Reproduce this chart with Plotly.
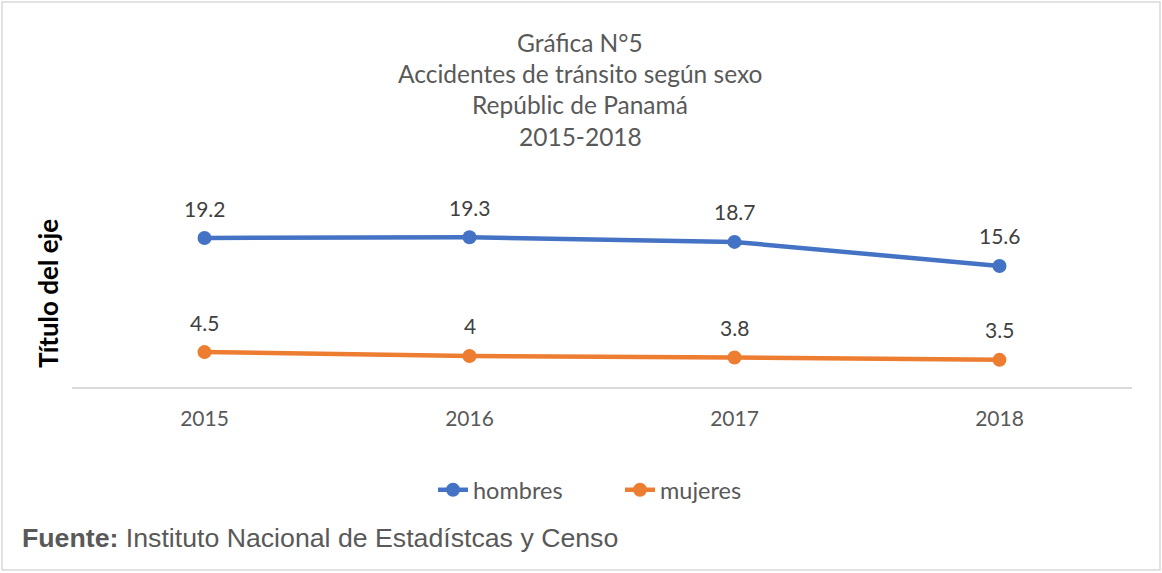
import plotly.graph_objects as go

years = ["2015", "2016", "2017", "2018"]
hombres = [19.2, 19.3, 18.7, 15.6]
mujeres = [4.5, 4.0, 3.8, 3.5]
hombres_labels = ["19.2", "19.3", "18.7", "15.6"]
mujeres_labels = ["4.5", "4", "3.8", "3.5"]
title_lines = ["Gráfica N°5", "Accidentes de tránsito según sexo", "Repúblic de Panamá", "2015-2018"]

BLUE = "#4472C4"
ORANGE = "#ED7D31"
FONT = "Lato, Calibri, Carlito, sans-serif"

W, H = 1162, 573
L, R, T, B = 72, 30, 193, 186
PH = H - T - B
PW = W - L - R

def py(px):
    return (H - B - px) / PH

def pxx(px):
    return (px - L) / PW

fig = go.Figure()
fig.add_trace(go.Scatter(x=years, y=hombres, name="hombres", mode="lines+markers",
                         line=dict(color=BLUE, width=4.5), marker=dict(size=14, color=BLUE)))
fig.add_trace(go.Scatter(x=years, y=mujeres, name="mujeres", mode="lines+markers",
                         line=dict(color=ORANGE, width=4.5), marker=dict(size=14, color=ORANGE)))

ann = []
for ys, labs in [(hombres, hombres_labels), (mujeres, mujeres_labels)]:
    for i, (y, t) in enumerate(zip(ys, labs)):
        ann.append(dict(x=i, y=y, xref="x", yref="y", text=t, showarrow=False, yshift=30,
                        xanchor="center", yanchor="middle",
                        font=dict(family=FONT, size=21, color="#404040")))

title_y = [42, 73, 104, 136]
for t, yy in zip(title_lines, title_y):
    ann.append(dict(x=pxx(580), y=py(yy), xref="paper", yref="paper", text=t, showarrow=False,
                    xanchor="center", yanchor="middle",
                    font=dict(family=FONT, size=24.5, color="#595959")))

ann.append(dict(x=pxx(48), y=py(294), xref="paper", yref="paper", text="<b>Título del eje</b>",
                textangle=-90, showarrow=False, xanchor="center", yanchor="middle",
                font=dict(family=FONT, size=26, color="#000000")))

ann.append(dict(x=pxx(20), y=py(538), xref="paper", yref="paper",
                text="<b>Fuente:</b> Instituto Nacional de Estadístcas y Censo",
                showarrow=False, xanchor="left", yanchor="middle",
                font=dict(family="Liberation Sans Narrow, Arial Narrow, Liberation Sans, Arial", size=26.7, color="#595959")))

fig.update_layout(
    width=W, height=H,
    margin=dict(l=L, r=R, t=T, b=B),
    paper_bgcolor="white", plot_bgcolor="white",
    showlegend=True,
    legend=dict(orientation="h", x=pxx(433), y=py(490), xanchor="left", yanchor="middle",
                font=dict(family=FONT, size=23.5, color="#595959"),
                entrywidth=142, entrywidthmode="pixels",
                bgcolor="rgba(0,0,0,0)"),
    annotations=ann,
    shapes=[dict(type="rect", xref="paper", yref="paper",
                 x0=pxx(2), x1=pxx(1160), y0=py(570), y1=py(2),
                 line=dict(color="#D9D9D9", width=1.5), fillcolor="rgba(0,0,0,0)", layer="below")],
    xaxis=dict(type="category", range=[-0.5, 3.5], showgrid=False, zeroline=False,
               showline=True, linecolor="#D9D9D9", linewidth=1.5, ticks="",
               tickfont=dict(family=FONT, size=21, color="#595959"), ticklabelstandoff=12,
               fixedrange=True),
    yaxis=dict(range=[0, 25], showgrid=False, zeroline=False, showline=False,
               showticklabels=False, ticks="", fixedrange=True),
)

fig.write_html("out.html", config={"displayModeBar": False},
               post_script="document.body.style.margin='0';document.body.style.padding='0';")
